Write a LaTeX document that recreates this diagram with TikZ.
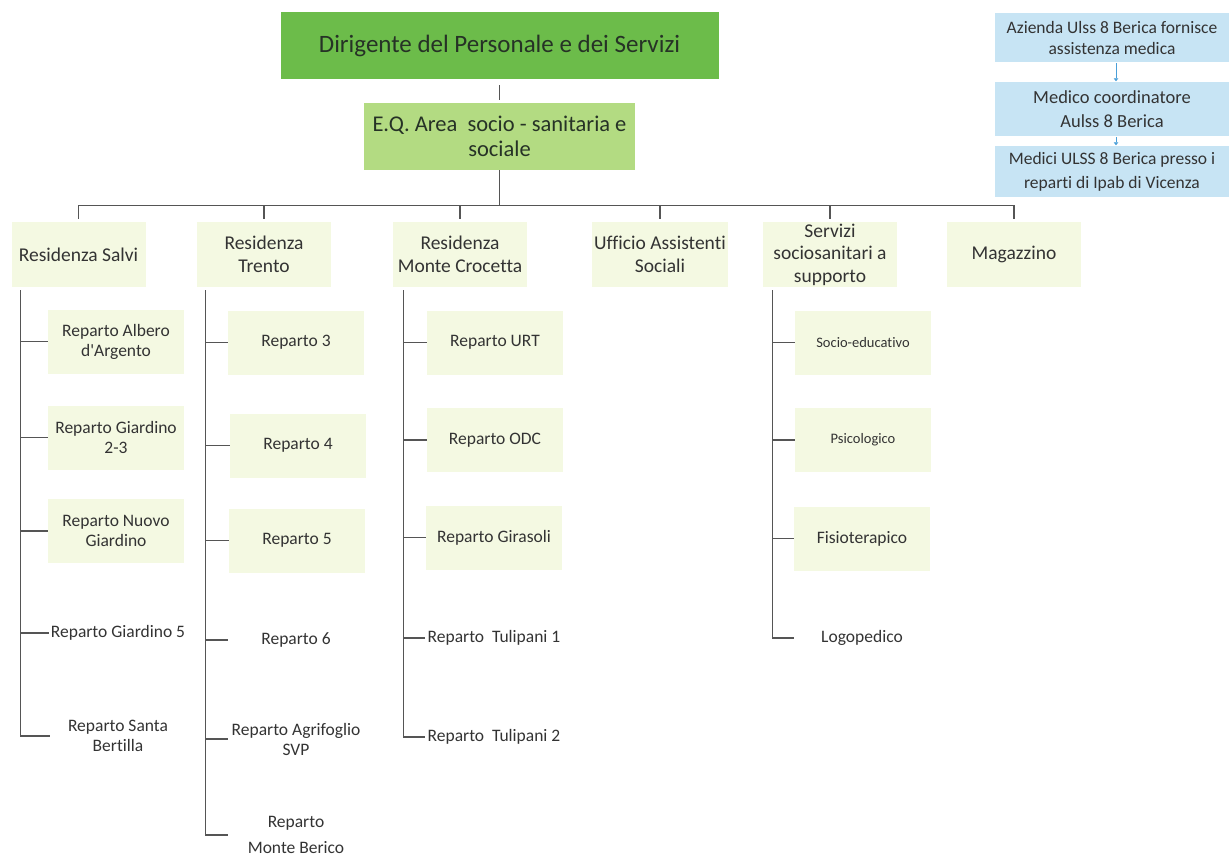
\documentclass[tikz,border=0pt]{standalone}
\usepackage{fontspec}
\setmainfont{Carlito}[Ligatures={CommonOff,TeXOff}]
\usetikzlibrary{arrows.meta}
\definecolor{topgreen}{HTML}{6CBC4A}
\definecolor{eqgreen}{HTML}{B3DB82}
\definecolor{pale}{HTML}{F4F9E2}
\definecolor{paleblue}{HTML}{C7E4F4}
\definecolor{arrowblue}{HTML}{4A9FD8}
\definecolor{txt}{HTML}{333333}
\definecolor{titletxt}{HTML}{263226}
\definecolor{linec}{HTML}{555555}
\begin{document}
\begin{tikzpicture}[x=1pt,y=-1pt,
  every node/.style={text=txt, align=center, inner sep=2pt},
  conn/.style={draw=linec, line width=1.1pt},
  topbox/.style={fill=topgreen, text=titletxt, minimum width=438pt, minimum height=67pt, font=\fontsize{25}{30}\selectfont},
  eqbox/.style={fill=eqgreen, text=titletxt, minimum width=271pt, minimum height=67pt, font=\fontsize{22.5}{25}\selectfont},
  lvtwo/.style={fill=pale, minimum width=134pt, minimum height=65pt, font=\fontsize{19.5}{22.5}\selectfont},
  rep/.style={minimum width=136pt, minimum height=64pt, font=\fontsize{17.5}{20}\selectfont},
  repbox/.style={rep, fill=pale},
  smallrep/.style={repbox, font=\fontsize{14.5}{17}\selectfont},
  bluebox/.style={fill=paleblue, minimum width=234pt, font=\fontsize{17.5}{21}\selectfont},
  bluearrow/.style={draw=arrowblue, line width=0.8pt, -{Triangle[length=3pt,width=4.5pt]}, shorten <=1pt, shorten >=0.5pt}
]
\useasboundingbox (0,0) rectangle (1231,859);

% top levels
\node[topbox] (top) at (499.5,45.5) {Dirigente del Personale e dei Servizi};
\node[eqbox] (eq) at (499.5,136.5) {E.Q. Area\ \ socio - sanitaria e\\sociale};

% right blue chain
\node[bluebox, minimum height=49pt] (b1) at (1112,37.5) {Azienda Ulss 8 Berica fornisce\\assistenza medica};
\node[bluebox, minimum height=54pt, font=\fontsize{18.5}{24}\selectfont] (b2) at (1112,109) {Medico coordinatore\\Aulss 8 Berica};
\node[bluebox, minimum height=51pt, font=\fontsize{17.5}{24}\selectfont] (b3) at (1112,171.5) {Medici ULSS 8 Berica presso i\\reparti di Ipab di Vicenza};
\draw[bluearrow] ([xshift=4pt]b1.south) -- ([xshift=4pt]b2.north);
\draw[bluearrow] ([xshift=4pt]b2.south) -- ([xshift=4pt]b3.north);

% second level
\node[lvtwo] (salvi) at (78.5,254.5) {Residenza Salvi};
\node[lvtwo] (trento) at (264,254.5) {Residenza\\Trento};
\node[lvtwo] (crocetta) at (460,254.5) {Residenza\\Monte Crocetta};
\node[lvtwo] (ufficio) at (660,254.5) {Ufficio Assistenti\\Sociali};
\node[lvtwo] (servizi) at (830,254.5) {Servizi\\sociosanitari a\\supporto};
\node[lvtwo] (magazzino) at (1014,254.5) {Magazzino};

% connectors top
\draw[conn] ([yshift=-6pt]top.south) -- ([yshift=3pt]eq.north);
\draw[conn] (eq.south) -- ++(0,35) coordinate (bus);
\draw[conn] (bus) -| ([yshift=3pt]salvi.north);
\draw[conn] (bus) -| ([yshift=3pt]trento.north);
\draw[conn] (bus) -| ([yshift=3pt]crocetta.north);
\draw[conn] (bus) -| ([yshift=3pt]ufficio.north);
\draw[conn] (bus) -| ([yshift=3pt]servizi.north);
\draw[conn] (bus) -| ([yshift=3pt]magazzino.north);

% Residenza Salvi children
\node[repbox] (albero) at (116,341.5) {Reparto Albero\\d'Argento};
\node[repbox] (giard23) at (116,437.5) {Reparto Giardino\\2-3};
\node[repbox] (nuovo) at (116,531) {Reparto Nuovo\\Giardino};
\node[rep] (giard5) at (118,633) {Reparto Giardino 5};
\node[rep] (bertilla) at (118,736) {Reparto Santa\\Bertilla};
\foreach \c in {albero,giard23,nuovo,giard5,bertilla}
  \draw[conn] ([xshift=9pt,yshift=-3pt]salvi.south west) |- (\c.west);

% Residenza Trento children
\node[repbox] (r3) at (296,342.5) {Reparto 3};
\node[repbox] (r4) at (298,445.5) {Reparto 4};
\node[repbox] (r5) at (297,540.5) {Reparto 5};
\node[rep] (r6) at (296,640) {Reparto 6};
\node[rep] (agri) at (296,739) {Reparto Agrifoglio\\SVP};
\node[rep, font=\fontsize{17.5}{26}\selectfont] (berico) at (296,835) {Reparto\\Monte Berico};
\foreach \c in {r3,r4,r5,r6,agri,berico}
  \draw[conn] ([xshift=9pt,yshift=-3pt]trento.south west) |- (\c.west);

% Residenza Monte Crocetta children
\node[repbox] (urt) at (495,342.5) {Reparto URT};
\node[repbox] (odc) at (495,440) {Reparto ODC};
\node[repbox] (girasoli) at (494,537.5) {Reparto Girasoli};
\node[rep] (tul1) at (494,638) {Reparto\ \ Tulipani 1};
\node[rep] (tul2) at (494,737) {Reparto\ \ Tulipani 2};
\foreach \c in {urt,odc,girasoli,tul1,tul2}
  \draw[conn] ([xshift=11pt,yshift=-3pt]crocetta.south west) |- (\c.west);

% Servizi children
\node[smallrep] (socio) at (863,342.5) {Socio-educativo};
\node[smallrep] (psico) at (863,440) {Psicologico};
\node[repbox] (fisio) at (862,538.5) {Fisioterapico};
\node[rep] (logo) at (862,638) {Logopedico};
\foreach \c in {socio,psico,fisio,logo}
  \draw[conn] ([xshift=10pt,yshift=-3pt]servizi.south west) |- (\c.west);
\end{tikzpicture}
\end{document}
